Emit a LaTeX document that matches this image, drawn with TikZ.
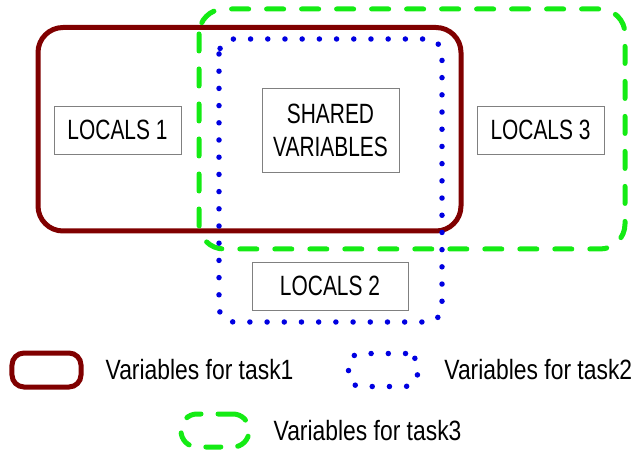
\documentclass[tikz,border=0pt]{standalone}
\usepackage{fontspec}
\setmainfont{Liberation Sans}[FakeStretch=0.75]
\newfontfamily\legfont{Liberation Sans}[FakeStretch=0.82]
\usetikzlibrary{positioning}

\definecolor{taskred}{RGB}{128,0,0}
\definecolor{taskgreen}{RGB}{20,235,20}
\definecolor{taskblue}{RGB}{0,0,225}

\tikzset{
  task1/.style={draw=taskred,line width=5bp,rounded corners=25bp},
  task2/.style={draw=taskblue,line width=5.5bp,line cap=round,
    dash pattern=on 0bp off 17.2bp,rounded corners=15bp},
  task3/.style={draw=taskgreen,line width=5bp,line cap=round,
    dash pattern=on 17bp off 18bp,rounded corners=25bp},
  varbox/.style={draw=black!50,line width=0.8bp,fill=white,inner sep=0pt,
    minimum width=127bp,minimum height=48bp,align=center,
    font=\fontsize{28}{33}\selectfont},
  legtext/.style={inner sep=0pt,font=\legfont\fontsize{28}{30}\selectfont}
}

\begin{document}
\begin{tikzpicture}[x=1bp,y=-1bp]
\useasboundingbox (0,0) rectangle (639,453);

% variable groups
\draw[task1] (38,27.5) rectangle (461,231);
\draw[task3] (199,9) rectangle (625,249);
\draw[task2] (219,39) rectangle (442,322);

% variables
\node[varbox] (loc1) at (117.5,130) {LOCALS 1};
\node[varbox,minimum width=137bp,minimum height=84bp] (shared) at (330.5,130) {SHARED\\VARIABLES};
\node[varbox] (loc3) at (540.5,130) {LOCALS 3};
\node[varbox,minimum width=156bp] (loc2) at (330,286) {LOCALS 2};

% legend
\node[task1,rounded corners=12bp,minimum width=69bp,minimum height=34bp] (key1) at (46.5,370) {};
\node[legtext,anchor=west,right=22bp of key1] (txt1) {Variables for task1};
\node[task2,rounded corners=12bp,minimum width=69bp,minimum height=33bp] (key2) at (383,370) {};
\node[legtext,anchor=west,right=24bp of key2] (txt2) {Variables for task2};
\node[task3,rounded corners=16bp,dash pattern=on 15bp off 17bp,minimum width=68bp,minimum height=33bp] (key3) at (215,430.5) {};
\node[legtext,anchor=west,right=22bp of key3] (txt3) {Variables for task3};
\end{tikzpicture}
\end{document}
